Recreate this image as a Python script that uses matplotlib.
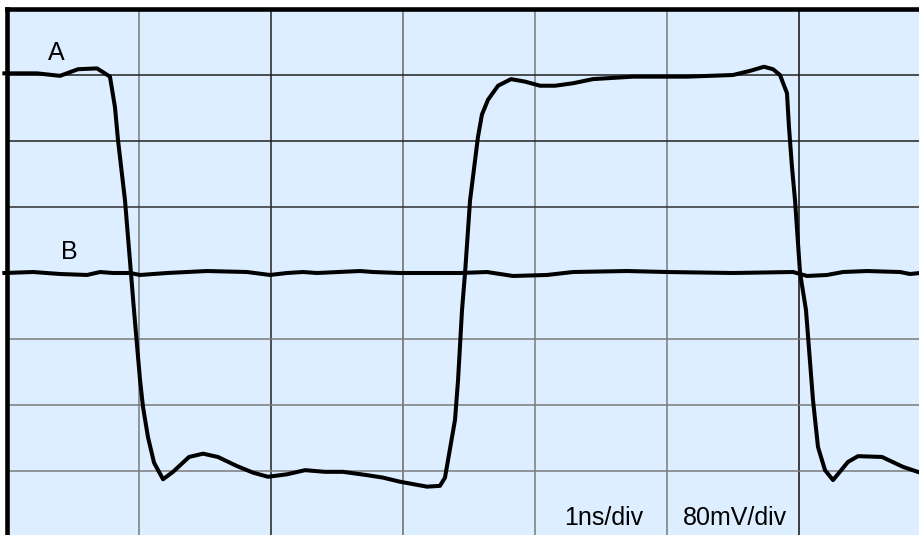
import matplotlib
matplotlib.use('Agg')
import matplotlib.pyplot as plt

plt.rcParams['font.family'] = ['Liberation Sans', 'DejaVu Sans']

# trace A: time (ns), level (mV)
a_t = [-0.02, 0.227, 0.402, 0.538, 0.682, 0.780, 0.818, 0.841, 0.894, 0.939,
       0.962, 1.008, 1.030, 1.068, 1.114, 1.182, 1.258, 1.379, 1.485, 1.598,
       1.742, 1.864, 1.977, 2.121, 2.258, 2.409, 2.545, 2.727, 2.848, 2.977,
       3.182, 3.280, 3.318, 3.341, 3.394, 3.417, 3.447, 3.470, 3.508, 3.568,
       3.598, 3.644, 3.720, 3.818, 3.924, 4.038, 4.152, 4.288, 4.439, 4.742,
       4.924, 5.152, 5.500, 5.629, 5.735, 5.803, 5.856, 5.909, 5.924, 5.947,
       5.970, 6.008, 6.053, 6.106, 6.144, 6.197, 6.258, 6.371, 6.447, 6.629,
       6.788, 6.917]
a_v = [242, 242, 239, 247, 248, 238, 201, 161, 88, 0,
       -45, -130, -162, -199, -230, -250, -241, -223, -219, -223,
       -234, -242, -247, -244, -239, -241, -241, -245, -248, -253,
       -259, -258, -248, -227, -178, -130, -45, 0, 88, 165,
       192, 210, 227, 235, 232, 227, 227, 230, 235, 238,
       238, 238, 240, 245, 250, 247, 240, 218, 177, 128,
       88, 0, -45, -154, -211, -239, -251, -229, -222, -223,
       -235, -242]

# trace B
b_t = [-0.02, 0.197, 0.402, 0.606, 0.705, 0.803, 0.932, 1.008, 1.212, 1.515,
       1.818, 1.992, 2.121, 2.242, 2.348, 2.674, 2.773, 2.977, 3.227, 3.432,
       3.636, 3.833, 4.091, 4.288, 4.697, 5.000, 5.500, 5.955, 6.061, 6.212,
       6.333, 6.515, 6.765, 6.841, 6.917]
b_v = [0, 1.2, -1.2, -2.4, 1.2, 0, 0, -2.4, 0, 2.4,
       1.2, -2.4, 0, 1.2, 0, 2.4, 1.2, 0, 0, 0,
       1.2, -3.6, -2.4, 1.2, 2.4, 1.2, 0, 1.2, -3.6, -2.4,
       1.2, 2.4, 1.2, -1.2, 0]

v_lines = [1, 2, 3, 4, 5, 6]
v_colors = ['#7a7a7a', '#202020', '#6a6a6a', '#7a7a7a', '#7a7a7a', '#101010']
h_lines = [240, 160, 80, -80, -160, -240]
h_colors = ['#202020', '#202020', '#303030', '#7a7a7a', '#7a7a7a', '#7a7a7a']

fig = plt.figure(figsize=(9.2, 5.35), dpi=100)
ax = fig.add_axes([7 / 920, -2 / 535, 924 / 920, 528 / 535])
ax.set_facecolor('#dceeff')
ax.set_xlim(0, 7)
ax.set_ylim(-320, 320)

for x, c in zip(v_lines, v_colors):
    ax.axvline(x, color=c, lw=1.1, zorder=1)
for y, c in zip(h_lines, h_colors):
    ax.axhline(y, color=c, lw=1.1, zorder=1)

ax.plot(a_t, a_v, color='black', lw=2.9, solid_joinstyle='round', zorder=3, clip_on=False)
ax.plot(b_t, b_v, color='black', lw=2.9, solid_joinstyle='round', zorder=3, clip_on=False)

ax.text(0.371, 267, 'A', fontsize=18, ha='center', va='center')
ax.text(0.473, 25, 'B', fontsize=18, ha='center', va='center')
ax.text(4.523, -305, '1ns/div', fontsize=18, ha='center', va='baseline')
ax.text(5.515, -305, '80mV/div', fontsize=18, ha='center', va='baseline')

ax.set_xticks([])
ax.set_yticks([])
for s in ['right', 'bottom']:
    ax.spines[s].set_visible(False)
for s in ['left', 'top']:
    ax.spines[s].set_linewidth(3.3)
    ax.spines[s].set_zorder(4)

fig.savefig('out.png', dpi=100, facecolor='white')
